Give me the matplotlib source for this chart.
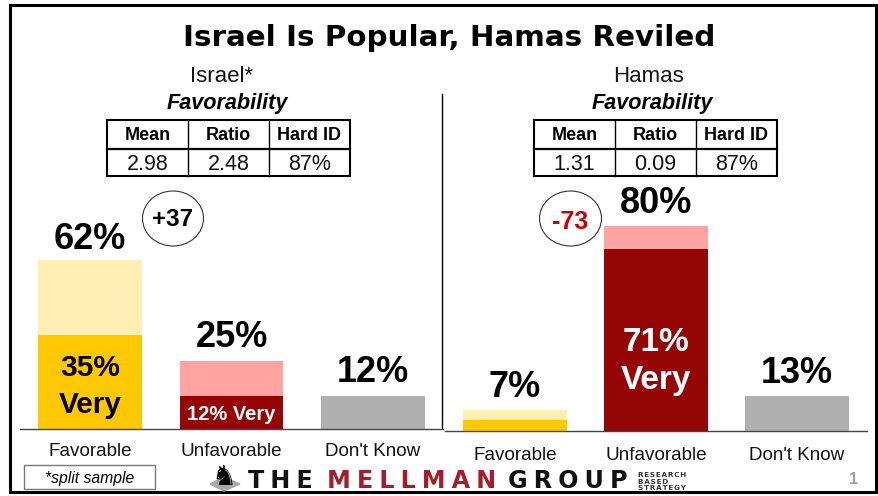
import matplotlib
matplotlib.use("Agg")
import matplotlib.pyplot as plt
from matplotlib.patches import Ellipse, Rectangle, Polygon

W, H = 879, 496
categories = ["Favorable", "Unfavorable", "Don't Know"]
israel_very = [34.5, 12, 12]
israel_rest = [27.5, 13, 0]
israel_totals = ["62%", "25%", "12%"]
hamas_very = [4, 71, 13.5]
hamas_rest = [4, 9, 0]
hamas_totals = ["7%", "80%", "13%"]
very_colors = ["#FFC800", "#960505", "#B0B0B0"]
rest_colors = ["#FFEFB5", "#FFA3A3", "#B0B0B0"]
table_head = ["Mean", "Ratio", "Hard ID"]
israel_table = ["2.98", "2.48", "87%"]
hamas_table = ["1.31", "0.09", "87%"]

plt.rcParams["font.family"] = ["Liberation Sans", "DejaVu Sans"]
fig = plt.figure(figsize=(W / 100, H / 100), dpi=100, facecolor="white")

def mk_axes(x0, x1, ytop, ybase):
    return fig.add_axes([x0 / W, 1 - ybase / H, (x1 - x0) / W, (ybase - ytop) / H])

ov = fig.add_axes([0, 0, 1, 1], zorder=5)
ov.set_xlim(0, W); ov.set_ylim(H, 0); ov.axis("off"); ov.patch.set_alpha(0)

def panel(x0, x1, ybase, scale, very, rest, totals, inside, pad, gaps):
    ytop = ybase - 90 * scale
    ax = mk_axes(x0, x1, ytop, ybase)
    ax.set_zorder(2)
    xs = range(len(very))
    ax.bar(xs, very, width=0.735, color=very_colors)
    ax.bar(xs, rest, bottom=very, width=0.735, color=rest_colors)
    ax.set_xlim(-0.496, 2.496)
    ax.set_ylim(0, 90)
    ax.patch.set_alpha(0)
    for s in ["top", "left", "right"]:
        ax.spines[s].set_visible(False)
    ax.spines["bottom"].set_color("#444444")
    ax.spines["bottom"].set_linewidth(1.0)
    ax.set_yticks([])
    ax.set_xticks(list(xs))
    ax.set_xticklabels(categories, fontsize=13.6, color="#111111")
    ax.tick_params(axis="x", length=0, pad=pad)
    for i, t in enumerate(totals):
        ax.text(i, very[i] + rest[i] + gaps[i], t, ha="center", va="bottom",
                fontsize=26, fontweight="bold", color="black")
    for i, y, txt, fs, col, ls in inside:
        ax.text(i, y, txt, ha="center", va="center", fontsize=fs,
                fontweight="bold", color=col, linespacing=ls)
    return ax

panel(20, 443, 428.5, 2.72, israel_very, israel_rest, israel_totals,
      [(0, 15.5, "35%\nVery", 21.5, "black", 1.4), (1, 5.3, "12% Very", 14.5, "white", 1.2)],
      10.5, [1.0, 2.0, 2.0])
panel(445, 867, 430.5, 2.56, hamas_very, hamas_rest, hamas_totals,
      [(1, 27, "71%\nVery", 24, "white", 1.28)], 12, [2.0, 2.0, 2.0])

# frame
ov.add_patch(Rectangle((10.5, 5), 866, 487, fill=False, ec="black", lw=2.2))
# divider
ov.plot([442, 442], [94, 428], color="black", lw=1.0)

ov.text(449.5, 37.5, "Israel Is Popular, Hamas Reviled", ha="center", va="center",
        fontsize=21.2, fontweight="bold", family="DejaVu Sans", color="black")

def table(x0, vals, name, xc, xf):
    ov.text(xc, 77, name, ha="center", va="center", fontsize=16, color="#111111")
    ov.text(xf, 103.5, "Favorability", ha="center", va="center", fontsize=15.6,
            fontweight="bold", style="italic", color="black")
    cw = 81
    y0, y1, y2 = 120, 149, 176
    ov.add_patch(Rectangle((x0, y0), 3 * cw, y2 - y0, fill=False, ec="black", lw=1.5))
    ov.plot([x0, x0 + 3 * cw], [y1, y1], color="black", lw=1.6)
    for i in (1, 2):
        ov.plot([x0 + i * cw] * 2, [y0, y2], color="black", lw=1.0)
    for i, (h, v) in enumerate(zip(table_head, vals)):
        ov.text(x0 + (i + .5) * cw, 136, h, ha="center", va="center", fontsize=13, fontweight="bold")
        ov.text(x0 + (i + .5) * cw, 164, v, ha="center", va="center", fontsize=15.5, color="#111111")

table(107, israel_table, "Israel*", 222, 227.5)
table(534, hamas_table, "Hamas", 649, 652.5)

ov.add_patch(Ellipse((173, 218.5), 61, 55, fill=False, ec="#333333", lw=0.8))
ov.text(173, 220, "+37", ha="center", va="center", fontsize=17.5, fontweight="bold")
ov.add_patch(Ellipse((570.5, 218.5), 62, 55, fill=False, ec="#333333", lw=0.8))
ov.text(570.5, 222, "-73", ha="center", va="center", fontsize=18, fontweight="bold", color="#CC0000")

# footer
ov.add_patch(Rectangle((24.5, 464.5), 131, 24, fill=False, ec="#777777", lw=1.0))
ov.text(90, 478, "*split sample", ha="center", va="center", fontsize=11.3, style="italic")
ov.add_patch(Polygon([[210, 484], [224, 477], [240, 484], [224, 491]], color="#A8A8A8"))
ov.text(224, 477, "\u265E", ha="center", va="center", fontsize=20, family="DejaVu Sans", color="black")
sp = "\u2005"
logo_style = dict(ha="left", va="center", fontsize=17.2, fontweight="bold", family="DejaVu Sans")
ov.text(248, 481, sp.join("THE"), color="#111111", **logo_style)
ov.text(327, 481, sp.join("MELLMAN"), color="#A51C2A", **logo_style)
ov.text(508, 481, sp.join("GROUP"), color="#111111", **logo_style)
for y, t in zip((475, 482, 488.5), ("RESEARCH", "BASED", "STRATEGY")):
    ov.text(638, y, "\u200a".join(t), ha="left", va="center", fontsize=5.2,
            color="#333333", fontweight="bold", family="DejaVu Sans")
ov.text(854, 479, "1", ha="center", va="center", fontsize=12, fontweight="bold", color="#A0A0A0")

fig.savefig("out.png", dpi=100)
